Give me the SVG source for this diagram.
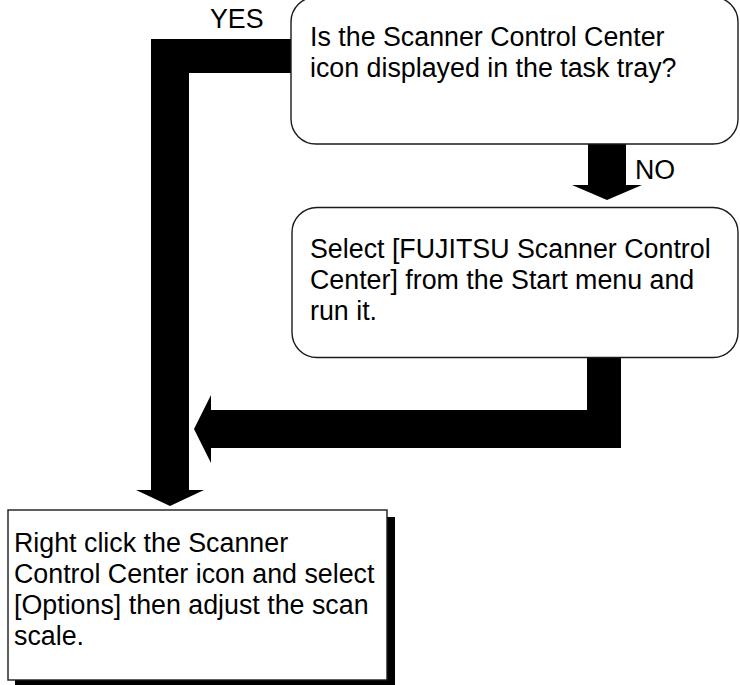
<svg xmlns="http://www.w3.org/2000/svg" width="740" height="685" viewBox="0 0 740 685">
<style>
.box{fill:#fff;stroke:#1a1a1a;stroke-width:1.4}
.shadow{fill:#000}
.conn{fill:#000;stroke:none}
text{font-family:"Liberation Sans",Arial,sans-serif;font-size:26.8px;fill:#000}
</style>
<rect width="740" height="685" fill="#fff"/>
<g id="connectors">
<path class="conn" d="M291,39 L151,39 L151,490 L136,490 L170,506 L204,490 L189,490 L189,73 L291,73 Z"/>
<path class="conn" d="M588,144 L626,144 L626,185 L642,185 L607,200 L572,185 L588,185 Z"/>
<path class="conn" d="M587,357 L621,357 L621,448 L211,448 L211,463 L194,429 L211,395 L211,410 L587,410 Z"/>
<text x="210" y="28">YES</text>
<text x="635" y="179">NO</text>
</g>
<g id="node-question">
<rect class="box" x="291" y="-3" width="447" height="147" rx="25" ry="25"/>
<text x="310" y="46">Is the Scanner Control Center</text>
<text x="310" y="77">icon displayed in the task tray?</text>
</g>
<g id="node-start">
<rect class="box" x="292" y="207.5" width="446" height="150" rx="25" ry="25"/>
<text x="310" y="258">Select [FUJITSU Scanner Control</text>
<text x="310" y="289">Center] from the Start menu and</text>
<text x="310" y="320">run it.</text>
</g>
<g id="node-options">
<rect class="shadow" x="15" y="517" width="380" height="171"/>
<rect class="box" x="8" y="510" width="379" height="170"/>
<text x="14" y="552">Right click the Scanner</text>
<text x="14" y="583">Control Center icon and select</text>
<text x="14" y="614">[Options] then adjust the scan</text>
<text x="14" y="645">scale.</text>
</g>
</svg>
